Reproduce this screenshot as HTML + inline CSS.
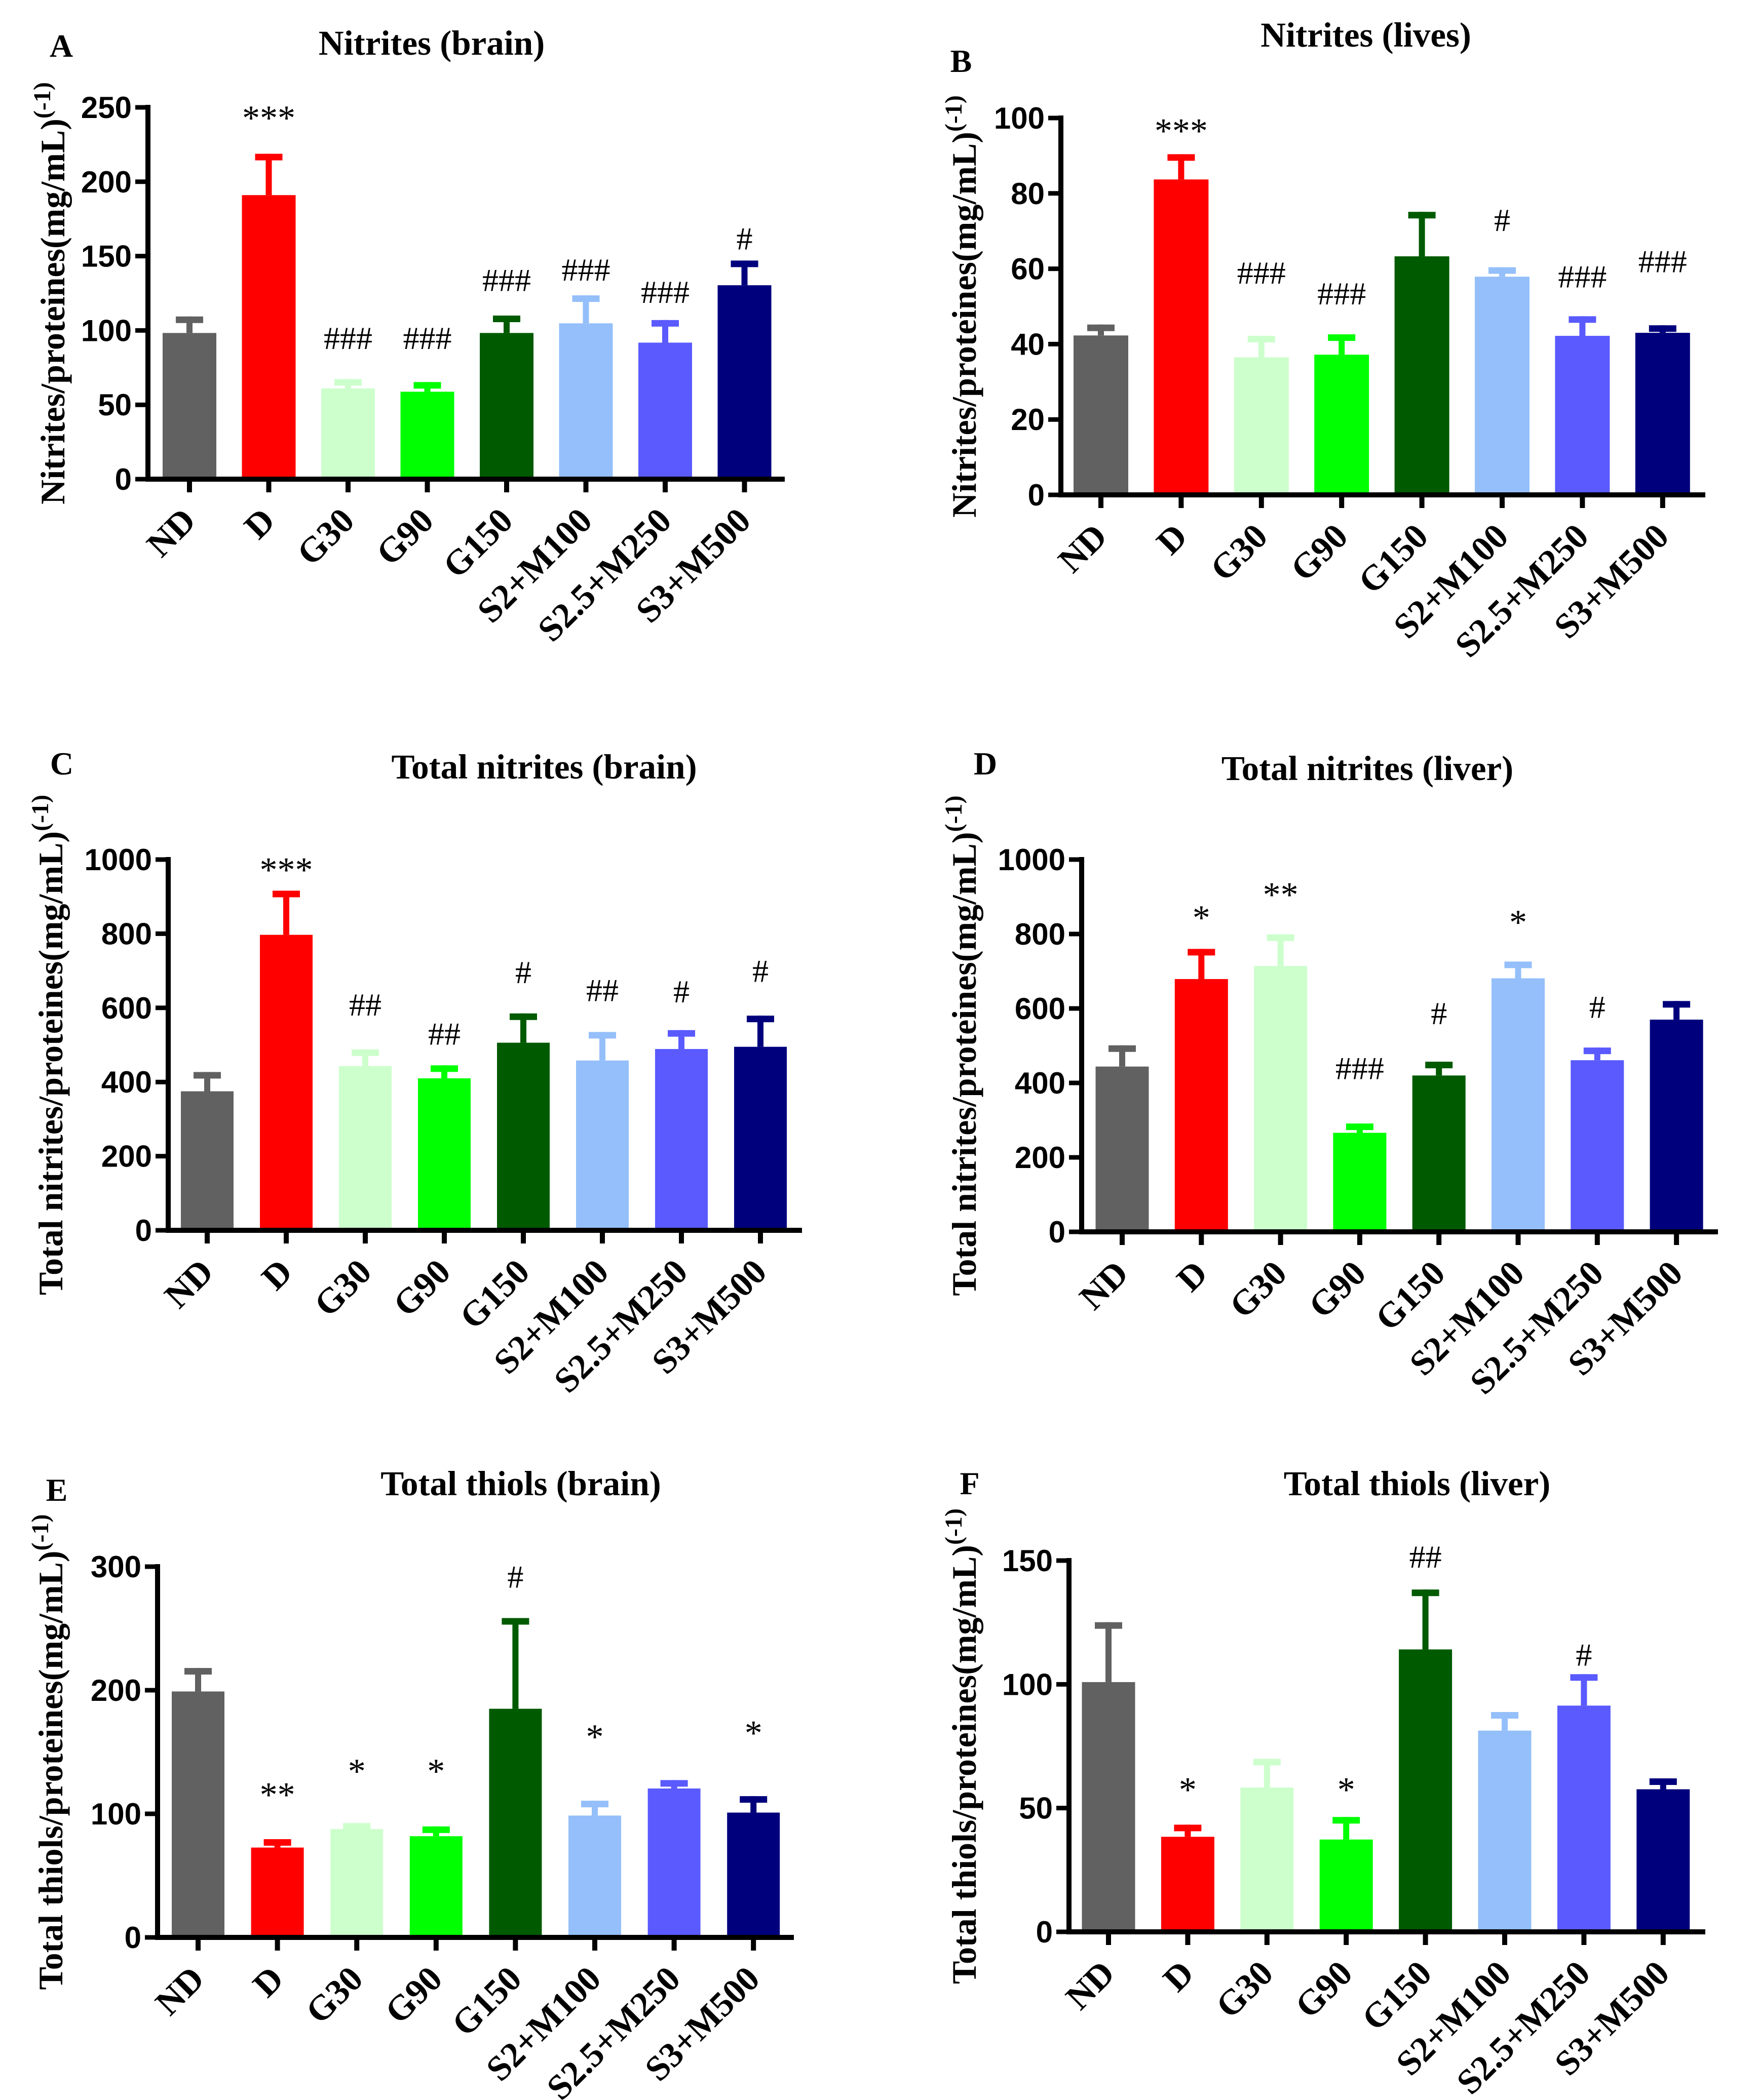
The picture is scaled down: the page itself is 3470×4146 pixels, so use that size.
<!DOCTYPE html>
<html><head><meta charset="utf-8"><style>
html,body{margin:0;padding:0;background:#fff;}
svg{display:block;}
</style></head><body>
<svg id="fig" xmlns="http://www.w3.org/2000/svg" width="3470" height="4146" viewBox="0 0 3470 4146">
<rect width="3470" height="4146" fill="#fff"/>
</svg>
<script>
const categories = ['ND','D','G30','G90','G150','S2+M100','S2.5+M250','S3+M500'];
const colors = ['#616161','#ff0000','#ccffcc','#00ff00','#005a00','#94bffa','#5a5aff','#00007c'];

const valuesA = [98.3,191,61,58.8,98.3,104.8,91.8,130.4];
const errorsA = [11.1,27.8,6.3,6.5,11.7,18.8,15.2,16.6];
const annotA = ['','***','###','###','###','###','###','#'];
const annotYA = [0,250,95,95,134,141,126,162];
const ticksA = [0,50,100,150,200,250];

const valuesB = [42.3,83.7,36.5,37.2,63.3,57.9,42.2,43.0];
const errorsB = [2.9,6.7,5.7,5.4,11.8,2.5,5.2,2.0];
const annotB = ['','***','###','###','','#','###','###'];
const annotYB = [0,99.4,59,53.5,0,73,58,62];
const ticksB = [0,20,40,60,80,100];

const valuesC = [375,797,443,410,506,458,489,495];
const errorsC = [52,119,45,35,79,77,51,84];
const annotC = ['','***','##','##','#','##','#','#'];
const annotYC = [0,1001,609,531,697,648,645,700];
const ticksC = [0,200,400,600,800,1000];

const valuesD = [444,679,714,266,420,681,461,570];
const errorsD = [57,81,85,25,37,45,34,50];
const annotD = ['','*','**','###','#','*','#',''];
const annotYD = [0,872,934,440,588,860,605,0];
const ticksD = [0,200,400,600,800,1000];

const valuesE = [199,72.7,87.7,81.9,185,98.6,120.5,101];
const errorsE = [19,6.8,4.8,7.9,73.4,12,6.8,13.3];
const annotE = ['','**','*','*','#','*','','*'];
const annotYE = [0,124,143,143,292,171,0,174];
const ticksE = [0,100,200,300];

const valuesF = [100.9,38.4,58.3,37.3,114.1,81.3,91.4,57.6];
const errorsF = [24.2,4.9,11.6,9.1,24.2,7.5,12.7,4.4];
const annotF = ['','*','','*','##','','#',''];
const annotYF = [0,61.7,0,61.7,151.6,0,112,0];
const ticksF = [0,50,100,150];

const NS='http://www.w3.org/2000/svg';
const svg=document.getElementById('fig');
function mk(tag,attrs,parent){const e=document.createElementNS(NS,tag);for(const k in attrs)e.setAttribute(k,attrs[k]);(parent||svg).appendChild(e);return e;}

const panels=[
 {id:'a',letter:'A',title:'Nitrites (brain)',ylab:'Nitrites/proteines(mg/mL)',values:valuesA,errors:errorsA,annot:annotA,annotY:annotYA,ticks:ticksA,
  ax:292,zero:946,top:212,first:374,step:156.5,barW:106,axEnd:1549,tx:852,ty:104,lx:121,ly:112,ylx:103},
 {id:'b',letter:'B',title:'Nitrites (lives)',ylab:'Nitrites/proteines(mg/mL)',values:valuesB,errors:errorsB,annot:annotB,annotY:annotYB,ticks:ticksB,
  ax:2094,zero:977,top:233,first:2173,step:158.4,barW:108,axEnd:3366,tx:2696,ty:88,lx:1897,ly:142,ylx:1902},
 {id:'c',letter:'C',title:'Total nitrites (brain)',ylab:'Total nitrites/proteines(mg/mL)',values:valuesC,errors:errorsC,annot:annotC,annotY:annotYC,ticks:ticksC,
  ax:332,zero:2429,top:1697,first:409,step:156,barW:104,axEnd:1583,tx:1074,ty:1533,lx:122,ly:1529,ylx:99},
 {id:'d',letter:'D',title:'Total nitrites (liver)',ylab:'Total nitrites/proteines(mg/mL)',values:valuesD,errors:errorsD,annot:annotD,annotY:annotYD,ticks:ticksD,
  ax:2135,zero:2432,top:1697,first:2215,step:156.3,barW:105,axEnd:3391,tx:2699,ty:1536,lx:1945,ly:1529,ylx:1902},
 {id:'e',letter:'E',title:'Total thiols (brain)',ylab:'Total thiols/proteines(mg/mL)',values:valuesE,errors:errorsE,annot:annotE,annotY:annotYE,ticks:ticksE,
  ax:311,zero:3825,top:3093,first:391,step:156.6,barW:104,axEnd:1567,tx:1028,ty:2948,lx:112,ly:2963,ylx:99},
 {id:'f',letter:'F',title:'Total thiols (liver)',ylab:'Total thiols/proteines(mg/mL)',values:valuesF,errors:errorsF,annot:annotF,annotY:annotYF,ticks:ticksF,
  ax:2110,zero:3814,top:3081,first:2188,step:156.4,barW:105,axEnd:3366,tx:2797,ty:2948,lx:1914,ly:2950,ylx:1902}
];

const serif='"Liberation Serif","Times New Roman",serif';
const sans='"Liberation Sans",Arial,sans-serif';

panels.forEach(p=>{
  const g=mk('g',{});
  
  
  const maxV=p.ticks[p.ticks.length-1];
  const y=v=>p.zero-(v/maxV)*(p.zero-p.top);
  const x=i=>p.first+i*p.step;

  const lt=mk('text',{x:p.lx,y:p.ly,'font-family':serif,'font-weight':'bold','font-size':64,'text-anchor':'middle',fill:'#000'},g);
  lt.textContent=p.letter;
  
  

  const tt=mk('text',{x:p.tx,y:p.ty+4,'font-family':serif,'font-weight':'bold','font-size':69,'text-anchor':'middle',fill:'#000'},g);
  tt.textContent=p.title;
  
  

  p.values.forEach((v,i)=>{
    const cx=x(i);
    const b=mk('rect',{x:cx-p.barW/2,y:y(v),width:p.barW,height:p.zero-y(v),fill:colors[i]},g);
    
    
    const topE=y(v+p.errors[i]);
    const st=mk('rect',{x:cx-6,y:topE,width:12,height:y(v)-topE,fill:colors[i]},g);
    
    
    const cap=mk('rect',{x:cx-27,y:topE,width:54,height:13,fill:colors[i]},g);
    
    
    if(p.annot[i]){
      const star=p.annot[i].indexOf('*')>=0;
      const at=mk('text',{x:cx,y:y(p.annotY[i])+(star?44:22),'font-family':serif,'font-size':star?70:64,'text-anchor':'middle',fill:'#000'},g);
      at.textContent=p.annot[i];
      
      
    }
    const xt=mk('line',{x1:cx,x2:cx,y1:p.zero,y2:p.zero+26,stroke:'#000','stroke-width':10},g);
    
    
    const tx=cx+16, ty=p.zero+86;
    const cl=mk('text',{x:tx,y:ty,'font-family':serif,'font-weight':'bold','font-size':70,'text-anchor':'end',fill:'#000',transform:`rotate(-45 ${tx} ${ty})`},g);
    cl.textContent=categories[i];
    
    
  });

  const ya=mk('line',{x1:p.ax,x2:p.ax,y1:p.top-5,y2:p.zero+5,stroke:'#000','stroke-width':10},g);
  
  
  const xa=mk('line',{x1:p.ax-5,x2:p.axEnd,y1:p.zero,y2:p.zero,stroke:'#000','stroke-width':10},g);
  
  
  p.ticks.forEach(t=>{
    const yt=mk('line',{x1:p.ax-25,x2:p.ax,y1:y(t),y2:y(t),stroke:'#000','stroke-width':9},g);
    
    
    const tl=mk('text',{x:p.ax-32,y:y(t)+21,'font-family':sans,'font-weight':'bold','font-size':60,'text-anchor':'end',fill:'#000'},g);
    tl.textContent=String(t);
    
    
  });

  const cy=(p.zero+p.top)/2;
  const yl=mk('text',{x:p.ylx+24,y:cy,'font-family':serif,'font-weight':'bold','font-size':68,'text-anchor':'middle',fill:'#000',transform:`rotate(-90 ${p.ylx+24} ${cy})`},g);
  
  
  const t1=mk('tspan',{},yl); t1.textContent=p.ylab;
  const t2=mk('tspan',{dy:-28,'font-size':48},yl); t2.textContent='(-1)';
});
</script>
</body></html>
